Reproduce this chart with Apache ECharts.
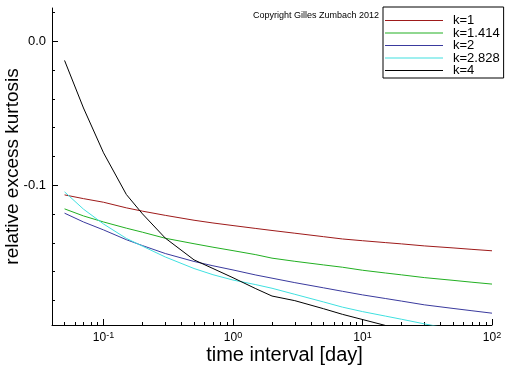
<!DOCTYPE html>
<html>
<head>
<meta charset="utf-8">
<script src="https://cdn.jsdelivr.net/npm/echarts@6/dist/echarts.min.js"></script>
<style>
html,body{margin:0;padding:0;background:#fff;}
#c{width:512px;height:366px;}
</style>
</head>
<body>
<div id="c"></div>
<script>
// time interval [day]
var timeInterval = [0.05, 0.07, 0.1, 0.15, 0.2, 0.3, 0.5, 0.7, 1, 1.5, 2, 3, 5, 7, 10, 15, 20, 30, 50, 70, 100];
var seriesNames = ['k=1', 'k=1.414', 'k=2', 'k=2.828', 'k=4'];
var k1    = [-0.1067,-0.1093,-0.1118,-0.1157,-0.1180,-0.1209,-0.1243,-0.1262,-0.1280,-0.1300,-0.1314,-0.1333,-0.1357,-0.1373,-0.1385,-0.1398,-0.1407,-0.1421,-0.1435,-0.1445,-0.1455];
var k1414 = [-0.1164,-0.1213,-0.1255,-0.1298,-0.1326,-0.1368,-0.1406,-0.1430,-0.1454,-0.1482,-0.1506,-0.1528,-0.1553,-0.1569,-0.1590,-0.1609,-0.1622,-0.1641,-0.1660,-0.1673,-0.1686];
var k2    = [-0.1194,-0.1255,-0.1310,-0.1378,-0.1419,-0.1474,-0.1529,-0.1559,-0.1588,-0.1623,-0.1645,-0.1676,-0.1712,-0.1736,-0.1761,-0.1786,-0.1804,-0.1830,-0.1855,-0.1871,-0.1888];
var k2828 = [-0.1046,-0.1166,-0.1269,-0.1369,-0.1423,-0.1498,-0.1578,-0.1621,-0.1658,-0.1690,-0.1715,-0.1757,-0.1810,-0.1846,-0.1877,-0.1908,-0.1930,-0.1962,-0.2000,-0.2020,-0.2040];
var k4    = [-0.0134,-0.0464,-0.0775,-0.1064,-0.1199,-0.1367,-0.1518,-0.1578,-0.1642,-0.1718,-0.1769,-0.1801,-0.1857,-0.1896,-0.1932,-0.1973,-0.2002,-0.2050,-0.2110,-0.2150,-0.2200];
var seriesValues = [k1, k1414, k2, k2828, k4];
var seriesColors = ['#9e1a1a', '#22b022', '#3a3a9e', '#40e0e0', '#000000'];

var xMajorTicks = [0.1, 1, 10, 100];
var xMinorTicks = [0.05,0.06,0.07,0.08,0.09, 0.2,0.3,0.4,0.5,0.6,0.7,0.8,0.9, 2,3,4,5,6,7,8,9, 20,30,40,50,60,70,80,90];
var yMajorTicks = [0, -0.1];
var yMinorTicks = [0.02, -0.02, -0.04, -0.06, -0.08, -0.12, -0.14, -0.16, -0.18];

var FONT = 'Liberation Sans, Arial, Helvetica, sans-serif';
var chart = echarts.init(document.getElementById('c'), null, {renderer: 'canvas'});

var series = seriesNames.map(function (name, i) {
  return {
    name: name,
    type: 'line',
    xAxisIndex: 0,
    yAxisIndex: 0,
    symbol: 'none',
    clip: true,
    color: seriesColors[i],
    lineStyle: {color: seriesColors[i], width: 1},
    itemStyle: {color: seriesColors[i]},
    data: timeInterval.map(function (t, j) { return [t, seriesValues[i][j]]; })
  };
});

chart.setOption({
  animation: false,
  backgroundColor: '#ffffff',
  color: seriesColors,
  title: {
    text: 'Copyright Gilles Zumbach 2012',
    right: 133, top: 11, padding: 0,
    textStyle: {fontFamily: FONT, fontSize: 9, fontWeight: 'normal', color: '#000'}
  },
  legend: {
    orient: 'vertical',
    left: 383, top: 7,
    padding: [7, 4, 1, 2],
    itemWidth: 58, itemHeight: 1, itemGap: -0.5,
    borderColor: '#000', borderWidth: 1, backgroundColor: '#fff',
    textStyle: {fontFamily: FONT, fontSize: 13, color: '#000', lineHeight: 12, padding: [0, 0, 0, 5]},
    data: seriesNames.map(function (n, i) {
      return {name: n, icon: 'path://M0,0H58V1H0Z', itemStyle: {color: seriesColors[i], borderWidth: 0}};
    })
  },
  grid: {left: 52, right: 20, top: 8, bottom: 41, containLabel: false, outerBoundsMode: 'none'},
  xAxis: [{
    type: 'log', logBase: 10, min: 0.04, max: 100, position: 'bottom',
    name: 'time interval [day]', nameLocation: 'middle', nameGap: 20, nameMoveOverlap: false,
    nameTextStyle: {fontFamily: FONT, fontSize: 20, color: '#000', padding: [0, 0, 0, 25]},
    axisLine: {show: true, onZero: false, lineStyle: {color: '#000', width: 1}},
    axisTick: {show: true, inside: true, length: 6, lineStyle: {color: '#000'}, customValues: xMajorTicks},
    axisLabel: {
      show: true, margin: 6, customValues: xMajorTicks,
      fontFamily: FONT, color: '#000',
      formatter: function (v) { var e = Math.round(Math.log(v) / Math.LN10); return '{b|10}{e|' + e + '}'; },
      rich: {
        b: {fontFamily: FONT, fontSize: 12, color: '#000', lineHeight: 14},
        e: {fontFamily: FONT, fontSize: 9, color: '#000', verticalAlign: 'top', lineHeight: 9}
      }
    },
    splitLine: {show: false}, minorTick: {show: false}, minorSplitLine: {show: false}
  }, {
    type: 'log', logBase: 10, min: 0.04, max: 100, position: 'bottom', offset: 0,
    axisLine: {show: false, onZero: false},
    axisTick: {show: true, inside: true, length: 3, lineStyle: {color: '#000'}, customValues: xMinorTicks},
    axisLabel: {show: false},
    splitLine: {show: false}
  }],
  yAxis: [{
    type: 'value', min: -0.197, max: 0.023, position: 'left',
    name: 'relative excess kurtosis', nameLocation: 'middle', nameGap: 30, nameMoveOverlap: false,
    nameTextStyle: {fontFamily: FONT, fontSize: 19, color: '#000'},
    axisLine: {show: true, onZero: false, lineStyle: {color: '#000', width: 1}},
    axisTick: {show: true, inside: true, length: 6, lineStyle: {color: '#000'}, customValues: yMajorTicks},
    axisLabel: {
      show: true, margin: 6, customValues: yMajorTicks,
      fontFamily: FONT, fontSize: 13, color: '#000',
      formatter: function (v) { return v.toFixed(1); }
    },
    splitLine: {show: false}
  }, {
    type: 'value', min: -0.197, max: 0.023, position: 'left', offset: 0,
    axisLine: {show: false, onZero: false},
    axisTick: {show: true, inside: true, length: 3, lineStyle: {color: '#000'}, customValues: yMinorTicks},
    axisLabel: {show: false},
    splitLine: {show: false}
  }],
  series: series
});
</script>
</body>
</html>
